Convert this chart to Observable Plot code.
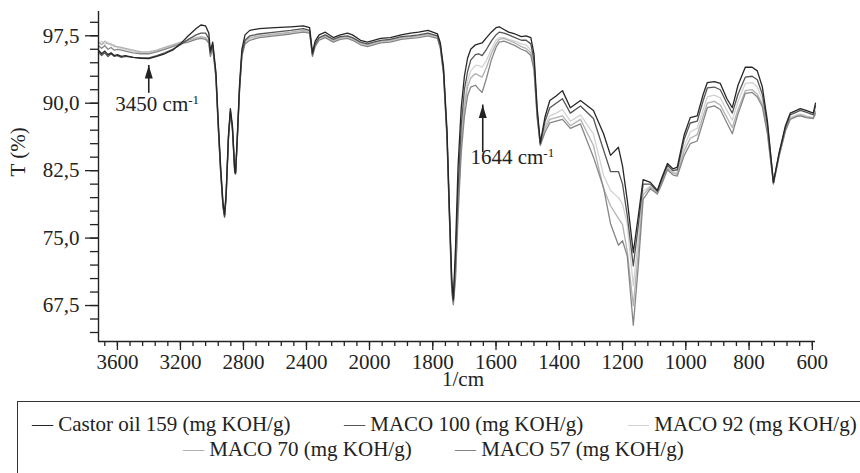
<!DOCTYPE html>
<html><head><meta charset="utf-8">
<script src="https://cdn.jsdelivr.net/npm/d3@7"></script>
<script src="https://cdn.jsdelivr.net/npm/@observablehq/plot@0.6"></script>
<style>
html,body{margin:0;padding:0;background:#fff;overflow:hidden;width:860px;height:473px;position:relative}
#chart{position:absolute;left:0;top:0}
#legend{position:absolute;left:17px;top:401px;width:870px;height:80px;border:1.5px solid #333;box-sizing:border-box;font-family:"Liberation Serif",serif;font-size:21px;color:#222}
.item{position:absolute;white-space:nowrap;line-height:21px}
</style></head><body>
<div id="chart"></div>
<div id="legend"></div>
<script>
const wavenumbers = [
3720,3700,3680,3660,3640,3620,3600,3575,3550,3500,
3450,3400,3350,3300,3250,3200,3150,3100,3070,3040,
3020,3010,2995,2975,2960,2945,2930,2920,2910,2895,
2883,2870,2855,2850,2840,2825,2810,2790,2760,2700,
2600,2500,2420,2380,2362,2345,2320,2280,2230,2185,
2140,2108,2057,2013,1987,1965,1934,1900,1870,1845,
1815,1785,1776,1766,1755,1748,1740,1735,1728,1720,
1710,1700,1690,1680,1665,1655,1644,1630,1615,1600,
1590,1575,1560,1540,1520,1505,1490,1480,1470,1460,
1445,1430,1410,1390,1365,1333,1292,1260,1238,1213,
1200,1185,1166,1150,1135,1112,1090,1075,1058,1040,
1027,1005,986,964,945,932,910,891,870,853,
835,812,790,774,758,742,723,705,685,670,
650,638,620,597,590];

const castor = [
95.9,95.5,95.8,95.4,95.6,95.3,95.4,95.2,95.3,95.1,
95.0,94.95,95.2,95.5,95.9,96.6,97.5,98.3,98.7,98.6,
97.8,95.8,96.8,93.5,88.0,83.0,79.0,77.6,80.0,86.5,
89.4,87.5,82.5,82.3,86.0,92.0,96.0,97.6,98.1,98.3,
98.4,98.5,98.6,98.4,95.6,96.9,97.6,97.9,97.3,97.6,
97.8,97.6,97.0,96.8,97.0,97.2,97.3,97.6,97.8,97.9,
98.1,97.7,96.7,94.0,87.0,79.0,70.5,68.2,74.0,83.0,
89.5,93.0,95.0,96.0,96.5,96.6,96.7,97.3,97.9,98.4,
98.5,98.2,97.9,97.7,97.4,97.5,97.3,95.5,89.5,85.6,
88.5,90.3,90.8,91.4,89.5,90.3,89.2,86.6,84.2,85.1,
83.0,79.2,73.4,77.5,81.5,81.2,80.3,81.8,83.3,82.7,
82.9,86.5,88.4,88.6,91.0,92.3,92.4,92.2,90.5,89.5,
92.0,94.0,94.0,93.6,91.8,88.0,81.2,84.5,87.5,88.9,
89.2,89.4,89.2,88.9,90.0];

const maco100 = [
95.7,95.3,95.6,95.2,95.5,95.2,95.3,95.1,95.2,95.1,
95.05,95.05,95.3,95.6,96.0,96.5,97.1,97.6,97.8,97.8,
97.2,95.6,96.5,93.2,87.5,82.5,78.6,77.4,79.6,86.2,
89.0,87.2,82.3,82.2,85.6,91.5,95.5,97.0,97.5,97.7,
97.9,98.1,98.3,98.1,95.4,96.6,97.3,97.6,97.1,97.4,
97.5,97.3,96.8,96.6,96.8,97.0,97.1,97.4,97.5,97.6,
97.8,97.5,96.4,93.6,86.5,78.5,70.0,68.0,72.5,80.5,
87.5,91.5,93.5,94.8,95.4,95.5,95.3,96.0,96.9,97.6,
97.9,97.8,97.6,97.3,97.0,97.0,96.6,94.8,89.0,85.5,
88.0,89.5,90.0,90.5,88.9,89.7,88.3,84.8,82.4,82.4,
81.0,77.5,71.9,76.5,81.0,81.0,80.2,81.6,83.1,82.5,
82.6,86.0,87.8,88.0,90.3,91.7,91.8,91.5,90.0,88.9,
91.0,92.9,93.0,92.6,91.0,87.6,81.2,84.4,87.3,88.7,
89.0,89.2,89.0,88.7,89.7];

const maco92 = [
96.6,96.9,96.5,96.8,96.4,96.5,96.2,96.1,96.0,95.8,
95.6,95.6,95.8,96.1,96.4,96.7,96.9,97.2,97.3,97.2,
96.8,95.3,96.2,93.0,87.5,82.6,78.7,77.5,79.8,86.3,
89.1,87.3,82.4,82.2,85.7,91.6,95.4,96.8,97.2,97.4,
97.6,97.8,98.0,97.9,95.3,96.4,97.1,97.4,96.9,97.2,
97.3,97.1,96.6,96.4,96.6,96.8,96.9,97.2,97.3,97.5,
97.6,97.3,96.2,93.4,86.3,78.2,69.5,67.8,71.5,79.0,
86.0,90.0,92.5,93.6,94.2,94.2,94.0,94.8,96.0,97.0,
97.3,97.3,97.1,96.9,96.6,96.5,95.9,94.2,88.7,85.4,
87.5,88.6,88.9,89.3,88.0,88.7,86.6,82.0,80.3,79.5,
78.8,76.5,69.7,75.0,80.2,80.8,80.1,81.4,82.9,82.3,
82.3,85.2,86.8,87.2,89.3,90.7,90.9,90.6,89.2,88.1,
90.2,92.2,92.3,91.8,90.4,87.2,81.1,84.3,87.1,88.4,
88.7,88.8,88.6,88.3,88.7];

const maco70 = [
96.8,96.5,96.9,96.6,96.6,96.3,96.3,96.2,96.1,95.9,
95.7,95.7,95.9,96.2,96.5,96.8,97.0,97.3,97.4,97.3,
96.9,95.4,96.3,93.1,87.6,82.7,78.8,77.5,79.9,86.4,
89.2,87.3,82.4,82.3,85.8,91.7,95.5,96.9,97.3,97.5,
97.7,97.9,98.1,98.0,95.4,96.5,97.2,97.5,97.0,97.3,
97.4,97.2,96.7,96.5,96.7,96.9,97.0,97.3,97.4,97.5,
97.7,97.4,96.3,93.5,86.4,78.3,69.6,67.9,71.0,78.5,
85.5,89.5,91.8,92.8,93.3,93.1,92.9,94.0,95.5,96.6,
97.1,97.2,97.0,96.7,96.3,96.1,95.6,94.0,88.6,85.4,
87.2,88.2,88.4,88.6,87.5,88.2,85.3,80.5,78.6,77.2,
76.5,73.5,67.5,73.5,79.8,80.7,80.0,81.3,82.8,82.2,
82.1,84.7,86.1,86.5,88.6,90.0,90.2,89.8,88.4,87.3,
89.3,91.4,91.5,91.0,89.9,86.8,81.1,84.2,87.0,88.3,
88.6,88.7,88.5,88.4,89.1];

const maco57 = [
96.4,96.1,96.4,96.0,96.2,95.9,96.0,95.9,95.8,95.6,
95.5,95.5,95.7,96.0,96.3,96.6,96.8,97.1,97.2,97.1,
96.7,95.2,96.1,92.8,87.2,82.3,78.4,77.3,79.5,86.1,
88.9,87.0,82.2,82.1,85.5,91.3,95.2,96.6,97.0,97.3,
97.5,97.7,97.9,97.8,95.2,96.3,97.0,97.3,96.8,97.1,
97.2,97.0,96.5,96.3,96.5,96.7,96.8,97.1,97.2,97.3,
97.5,97.2,96.1,93.2,86.0,77.9,69.0,67.6,70.5,77.5,
84.5,88.5,90.8,91.8,92.0,91.6,91.2,92.8,94.8,96.2,
96.8,96.9,96.7,96.4,96.0,95.8,95.3,93.7,88.4,85.3,
86.8,87.8,88.0,88.2,87.2,87.7,84.0,80.6,76.6,74.2,
74.7,73.0,65.3,72.0,79.3,80.5,79.9,81.1,82.6,82.0,
81.9,84.2,85.5,85.8,88.0,89.5,89.7,89.3,87.8,86.6,
88.8,91.1,91.2,90.7,89.6,86.6,81.0,84.1,86.9,88.2,
88.5,88.6,88.4,88.3,88.9];

const seriesNames = ["Castor oil 159 (mg KOH/g)", "MACO 100 (mg KOH/g)", "MACO 92 (mg KOH/g)", "MACO 70 (mg KOH/g)", "MACO 57 (mg KOH/g)"];
const seriesColors = ["#262626", "#555555", "#d2d2d2", "#b2b2b2", "#868686"];
const seriesValues = [castor, maco100, maco92, maco70, maco57];
const drawOrder = [2, 3, 4, 1, 0];

const xMajorTicks = [3600, 3200, 2800, 2400, 2000, 1800, 1600, 1400, 1200, 1000, 800, 600];
const yMajorTicks = [67.5, 75.0, 82.5, 90.0, 97.5];

const annotationLabels = ["3450 cm-1", "1644 cm-1"];
const arrowWn = [3401, 1642];
const arrowTipT = [94.2, 89.8];
const arrowBaseT = [91.1, 84.5];
const labelWn = [3613, 1681];
const labelT = [89.9, 84.0];

// FTIR axis with a change of scale at 2000 cm-1 (400 cm-1 per major step above, 200 below)
const wnBreak = d3.scaleLinear().domain([3720, 2000, 590]).range([0, 271, 717]);
const pos = w => wnBreak(w);
const unpos = p => Math.round(wnBreak.invert(p));

const xMinorTicks = d3.range(3680, 2000, -80).concat(d3.range(2000, 580, -40));
const yMinorTicks = d3.range(64.5, 100, 1.5);

const annotations = annotationLabels.map((l, i) => ({label: l, x: pos(arrowWn[i]), tip: arrowTipT[i], base: arrowBaseT[i], lx: pos(labelWn[i]), lt: labelT[i]}));

const arrowHead = {draw(context) { context.moveTo(0, 0); context.lineTo(4, 13); context.lineTo(-4, 13); context.closePath(); }};

const lineMarks = drawOrder.map(s => Plot.line(
  wavenumbers.map((w, i) => ({x: pos(w), t: seriesValues[s][i]})),
  {x: "x", y: "t", stroke: seriesColors[s], strokeWidth: 1.3}
));

const fmt = d => d.toFixed(1).replace(".", ",");

const svg = Plot.plot({
  width: 860, height: 395,
  marginLeft: 98, marginRight: 45, marginTop: 11, marginBottom: 54,
  style: {fontFamily: '"Liberation Serif", serif', fontSize: "21px", color: "#222", background: "#fff", overflow: "visible"},
  x: {domain: [0, 717], label: null},
  y: {domain: [63.5, 100.2], label: null},
  marks: [
    ...lineMarks,
    Plot.ruleX(annotations, {x: "x", y1: "base", y2: "tip", stroke: "#222", strokeWidth: 1.6}),
    Plot.dot(annotations, {x: "x", y: "tip", symbol: arrowHead, fill: "#222", stroke: "none", r: 4}),
    Plot.text(annotations, {x: "lx", y: "lt", text: "label", textAnchor: "start", fontSize: 21, fill: "#222"}),
    Plot.ruleX([0], {stroke: "#222", strokeWidth: 1.4}),
    Plot.ruleY([63.5], {stroke: "#222", strokeWidth: 1.4}),
    Plot.axisX(xMinorTicks.map(pos), {tickSize: 5, tickFormat: () => "", strokeWidth: 1.3, label: null}),
    Plot.axisX(xMajorTicks.map(pos), {tickSize: 9, tickPadding: 4, tickFormat: p => String(unpos(p)), strokeWidth: 1.3, fontSize: 21, label: null}),
    Plot.axisY(yMinorTicks, {tickSize: 8, tickFormat: () => "", strokeWidth: 1.3, label: null}),
    Plot.axisY(yMajorTicks, {tickSize: 13, tickPadding: 6, tickFormat: fmt, strokeWidth: 1.3, fontSize: 21, label: null}),
    Plot.text(["T (%)"], {frameAnchor: "left", dx: -80, rotate: -90, fontSize: 21, fill: "#222"}),
    Plot.text(["1/cm"], {frameAnchor: "bottom", dy: 44, dx: 6, fontSize: 21, fill: "#222"})
  ]
});

// superscript for "cm-1"
d3.select(svg).selectAll("text").each(function() {
  const t = this.textContent;
  if (t.endsWith("cm-1")) {
    const el = d3.select(this);
    el.text(t.slice(0, -2));
    el.append("tspan").attr("dy", "-0.5em").attr("font-size", "0.62em").text("-1");
  }
});

document.getElementById("chart").appendChild(svg);

const legendPos = [[14, 12], [326, 12], [610, 12], [165, 37], [437, 37]];
const legend = document.getElementById("legend");
seriesNames.forEach((name, i) => {
  const div = document.createElement("div");
  div.className = "item";
  div.style.left = legendPos[i][0] + "px";
  div.style.top = legendPos[i][1] + "px";
  const dash = document.createElement("span");
  dash.textContent = "\u2014";
  dash.style.color = seriesColors[i];
  div.appendChild(dash);
  div.appendChild(document.createTextNode(" " + name));
  legend.appendChild(div);
});
</script>
</body></html>
